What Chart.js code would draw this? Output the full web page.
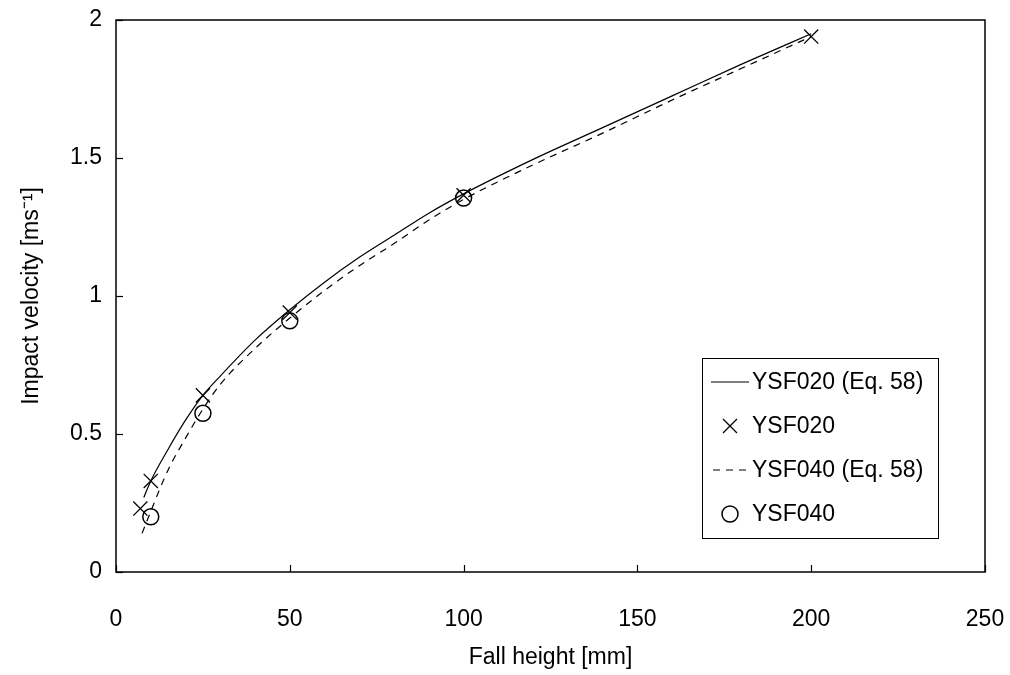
<!DOCTYPE html>
<html><head><meta charset="utf-8">
<script src="https://cdn.jsdelivr.net/npm/chart.js@4.4.1/dist/chart.umd.min.js"></script>
<style>html,body{margin:0;padding:0;background:#fff}</style>
</head><body>
<canvas id="c" width="1010" height="675" style="width:1010px;height:675px;display:block"></canvas>
<script>
// ---- data ----
const xTickValues = [0, 50, 100, 150, 200, 250];
const yTickValues = [0, 0.5, 1, 1.5, 2];

const eqH020 = [8, 10, 15, 20, 25, 30, 40, 50, 60, 70, 80, 90, 100, 120, 140, 160, 180, 200];
const eqV020 = [0.27, 0.33, 0.445, 0.55, 0.64, 0.71, 0.84, 0.95, 1.05, 1.14, 1.22, 1.30, 1.37, 1.495, 1.61, 1.725, 1.84, 1.95];

const measH020 = [7, 10, 25, 50, 100, 200];
const measV020 = [0.23, 0.33, 0.64, 0.94, 1.365, 1.94];

const eqH040 = [7.5, 10, 15, 20, 25, 30, 40, 50, 60, 70, 80, 90, 100, 120, 140, 160, 180, 200];
const eqV040 = [0.14, 0.22, 0.37, 0.485, 0.59, 0.68, 0.81, 0.92, 1.02, 1.11, 1.19, 1.275, 1.35, 1.475, 1.59, 1.71, 1.825, 1.94];

const measH040 = [10, 25, 50, 100];
const measV040 = [0.20, 0.575, 0.91, 1.355];

const seriesLabels = ['YSF020 (Eq. 58)', 'YSF020', 'YSF040 (Eq. 58)', 'YSF040'];

const pts = (xs, ys) => xs.map((x, i) => ({x: x, y: ys[i]}));
const FONT = 'Liberation Sans, Arial, sans-serif';

const datasets = [
  {label: seriesLabels[0], data: pts(eqH020, eqV020), showLine: true, borderColor: '#000', borderWidth: 1.2,
   pointRadius: 0, cubicInterpolationMode: 'monotone', fill: false, kind: 'line'},
  {label: seriesLabels[1], data: pts(measH020, measV020), showLine: false, pointStyle: 'cross', rotation: 45,
   pointRadius: 10, pointBorderWidth: 1.3, borderColor: '#000', pointBorderColor: '#000', kind: 'cross'},
  {label: seriesLabels[2], data: pts(eqH040, eqV040), showLine: true, borderColor: '#000', borderWidth: 1.2,
   borderDash: [7, 6], pointRadius: 0, cubicInterpolationMode: 'monotone', fill: false, kind: 'dash'},
  {label: seriesLabels[3], data: pts(measH040, measV040), showLine: false, pointStyle: 'circle',
   pointRadius: 8, pointBorderWidth: 1.5, borderColor: '#000', pointBorderColor: '#000', backgroundColor: 'rgba(0,0,0,0)', pointBackgroundColor: 'rgba(0,0,0,0)', kind: 'circle'}
];

const framePlugin = {
  id: 'frame',
  afterDatasetsDraw(chart) {
    const {ctx, chartArea: a, scales} = chart;
    ctx.save();
    ctx.strokeStyle = '#000';
    ctx.lineWidth = 1.5;
    ctx.strokeRect(a.left, a.top, a.right - a.left, a.bottom - a.top);
    ctx.lineWidth = 1.2;
    // inward ticks
    xTickValues.forEach(v => {
      const px = Math.round(scales.x.getPixelForValue(v)) + 0.5;
      ctx.beginPath(); ctx.moveTo(px, a.bottom); ctx.lineTo(px, a.bottom - 7); ctx.stroke();
    });
    yTickValues.forEach(v => {
      const py = Math.round(scales.y.getPixelForValue(v)) + 0.5;
      ctx.beginPath(); ctx.moveTo(a.left, py); ctx.lineTo(a.left + 7, py); ctx.stroke();
    });
    // legend box
    const bx = 702, by = 358, bw = 236, rowH = 44;
    const bh = rowH * 4 + 4;
    ctx.fillStyle = '#fff';
    ctx.fillRect(bx, by, bw, bh);
    ctx.strokeStyle = '#000';
    ctx.lineWidth = 1;
    ctx.strokeRect(bx + 0.5, by + 0.5, bw, bh);
    ctx.font = '23px ' + FONT;
    ctx.textBaseline = 'middle';
    ctx.textAlign = 'left';
    chart.data.datasets.forEach((ds, i) => {
      const cy = by + 24 + i * rowH;
      const sx0 = bx + 9, sx1 = bx + 47, sc = (sx0 + sx1) / 2;
      ctx.strokeStyle = '#000';
      ctx.setLineDash([]);
      if (ds.kind === 'line') {
        ctx.lineWidth = 1.2;
        ctx.beginPath(); ctx.moveTo(sx0, cy); ctx.lineTo(sx1, cy); ctx.stroke();
      } else if (ds.kind === 'dash') {
        ctx.lineWidth = 1.2;
        ctx.setLineDash([7, 6]);
        ctx.beginPath(); ctx.moveTo(sx0 + 2, cy); ctx.lineTo(sx1, cy); ctx.stroke();
        ctx.setLineDash([]);
      } else if (ds.kind === 'cross') {
        ctx.lineWidth = 1.3;
        const r = 7;
        ctx.beginPath(); ctx.moveTo(sc - r, cy - r); ctx.lineTo(sc + r, cy + r);
        ctx.moveTo(sc - r, cy + r); ctx.lineTo(sc + r, cy - r); ctx.stroke();
      } else {
        ctx.lineWidth = 1.5;
        ctx.beginPath(); ctx.arc(sc, cy, 8, 0, Math.PI * 2); ctx.stroke();
      }
      ctx.fillStyle = '#000';
      ctx.fillText(ds.label, bx + 50, cy + 1);
    });
    ctx.restore();
  }
};

new Chart(document.getElementById('c'), {
  type: 'scatter',
  data: {datasets: datasets},
  plugins: [framePlugin],
  options: {
    responsive: false,
    animation: false,
    layout: {padding: {left: 0, top: 20, right: 25, bottom: 0}},
    plugins: {legend: {display: false}, tooltip: {enabled: false}},
    scales: {
      x: {
        type: 'linear', min: 0, max: 250,
        afterBuildTicks(s) { s.ticks = xTickValues.map(v => ({value: v})); },
        afterFit(s) { s.height = 103; s.paddingLeft = 0; s.paddingRight = 0; },
        grid: {display: false, drawTicks: false},
        border: {display: false},
        ticks: {color: '#000', padding: 34, maxRotation: 0, font: {family: FONT, size: 23}},
        title: {display: true, text: 'Fall height [mm]', color: '#000', font: {family: FONT, size: 23}, padding: {top: 0, bottom: 4}}
      },
      y: {
        type: 'linear', min: 0, max: 2,
        afterBuildTicks(s) { s.ticks = yTickValues.map(v => ({value: v})); },
        afterFit(s) { s.width = 116; s.paddingTop = 0; s.paddingBottom = 0; },
        grid: {display: false, drawTicks: false},
        border: {display: false},
        ticks: {color: '#000', padding: 14, font: {family: FONT, size: 23},
                callback: v => String(v)},
        title: {display: true, text: 'Impact velocity [ms⁻¹]', color: '#000', font: {family: FONT, size: 23}, padding: {top: 18, bottom: 0}}
      }
    }
  }
});
</script>
</body></html>
